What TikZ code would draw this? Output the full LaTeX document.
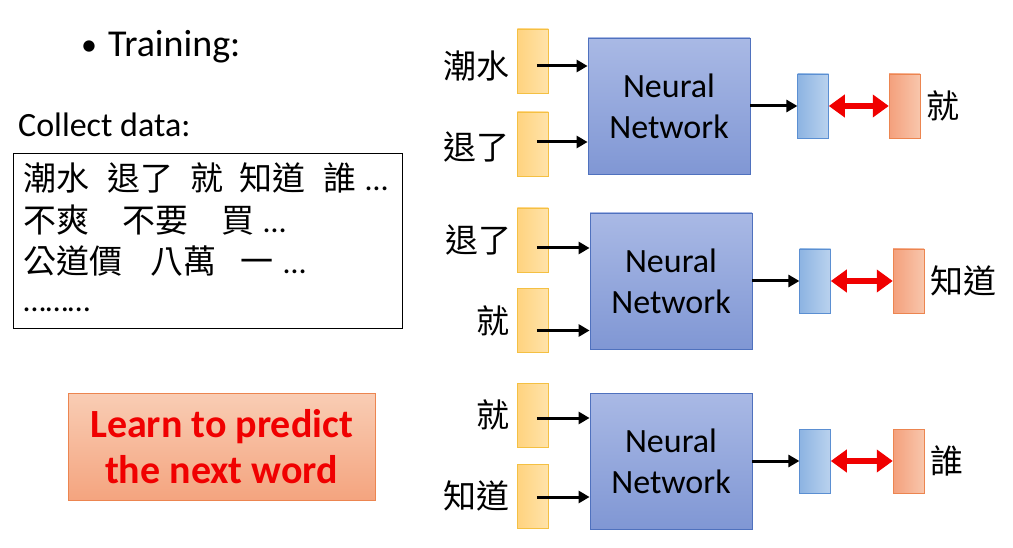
\documentclass[tikz,border=0pt]{standalone}
\usepackage{fontspec}
\setmainfont{Carlito}
\newfontfamily\cjk{Noto Sans CJK TC}
\usetikzlibrary{positioning,arrows.meta}

\definecolor{wordfill}{HTML}{FFD37F}
\definecolor{wordlight}{HTML}{FFE3AA}
\definecolor{wordline}{HTML}{F4C043}
\definecolor{nettop}{HTML}{A9B9E5}
\definecolor{netbot}{HTML}{8097D4}
\definecolor{netline}{HTML}{4F71BE}
\definecolor{vecfill}{HTML}{8DB4E2}
\definecolor{veclight}{HTML}{BAD2EE}
\definecolor{vecline}{HTML}{5B8FD2}
\definecolor{tgtfill}{HTML}{F4A07C}
\definecolor{tgtlight}{HTML}{F8C6AC}
\definecolor{tgtline}{HTML}{EC8550}
\definecolor{goaltop}{HTML}{F9CDB4}
\definecolor{goalbot}{HTML}{F4A47F}
\definecolor{tred}{HTML}{F00000}

\newcommand\moredots{{\rmfamily\fontsize{32}{36}\selectfont …}}

\tikzset{
  wordbox/.style={draw=wordline, left color=wordfill, right color=wordlight,
    minimum width=31pt, minimum height=64pt, inner sep=0pt},
  netbox/.style={draw=netline, line width=0.8pt, top color=nettop, bottom color=netbot,
    minimum width=162pt, minimum height=136pt, align=center,
    font=\fontsize{34}{41}\selectfont},
  vecbox/.style={draw=vecline, left color=vecfill, right color=veclight,
    minimum width=31pt, minimum height=64pt, inner sep=0pt},
  tgtbox/.style={draw=tgtline, left color=tgtfill, right color=tgtlight,
    minimum width=31pt, minimum height=64pt, inner sep=0pt},
  lbl/.style={inner sep=0pt, font=\cjk\fontsize{33}{36}\selectfont},
  row/.style={anchor=base west, inner sep=0pt, font=\cjk\fontsize{33}{36}\selectfont},
  feed/.style={line width=3pt, -{Triangle[length=11pt,width=12pt]}},
  match/.style={tred, line width=6pt,
    {Triangle[length=16pt,width=22pt]}-{Triangle[length=16pt,width=22pt]}},
}

\begin{document}
\begin{tikzpicture}[x=1pt, y=-1pt]
\useasboundingbox (0,0) rectangle (1013,548);

% left column
\node[anchor=base west, inner sep=0pt, font=\fontsize{38}{42}\selectfont] (train) at (81,57) {\raisebox{1pt}{\fontsize{32}{34}\selectfont •}\hspace{11pt}Training:};
\node[anchor=base west, inner sep=0pt, font=\fontsize{34}{38}\selectfont] (collect) at (18,137) {Collect data:};
\node[draw, line width=1pt, minimum width=389pt, minimum height=175pt] (corpus) at (207.5,241.5) {};
\node[row] (row1) at (23.5,191) {潮水\hspace{18pt}退了\hspace{17pt}就\hspace{16pt}知道\hspace{18pt}誰\hspace{9pt}\moredots};
\node[row] (row2) at (23.5,233) {不爽\hspace{33pt}不要\hspace{33pt}買\hspace{9pt}\moredots};
\node[row] (row3) at (23.5,274) {公道價\hspace{28pt}八萬\hspace{24pt}一\hspace{10pt}\moredots};
\node[row] (row4) at (23.5,312) {\moredots\moredots\moredots};
\node[draw=tgtline, top color=goaltop, bottom color=goalbot, minimum width=307pt, minimum height=107pt,
  align=center, text=tred, font=\bfseries\fontsize{40}{46}\selectfont] (goal) at (221.5,446.5) {Learn to predict\\the next word};

% block 1
\node[netbox] (nn1) at (669,106) {Neural\\Network};
\node[wordbox, left=39pt of nn1, yshift=45pt] (w11) {};
\node[wordbox, left=39pt of nn1, yshift=-38pt] (w12) {};
\node[lbl, left=8pt of w11, yshift=-5pt] (l11) {潮水};
\node[lbl, left=8pt of w12, yshift=-3pt] (l12) {退了};
\node[vecbox, right=47pt of nn1] (v1) {};
\node[tgtbox, right=60pt of v1] (t1) {};
\node[lbl, right=6pt of t1] (o1) {就};
\draw[feed] ([xshift=4pt,yshift=-5pt]w11.center) -- ([yshift=-5pt]w11.center -| nn1.west);
\draw[feed] ([xshift=4pt,yshift=2pt]w12.center) -- ([yshift=2pt]w12.center -| nn1.west);
\draw[feed] (nn1) -- (v1);
\draw[match] (v1) -- (t1);

% block 2
\node[netbox] (nn2) at (671,281) {Neural\\Network};
\node[wordbox, left=41pt of nn2, yshift=41pt] (w21) {};
\node[wordbox, left=41pt of nn2, yshift=-39.5pt] (w22) {};
\node[lbl, left=6pt of w21] (l21) {退了};
\node[lbl, left=8pt of w22] (l22) {就};
\node[vecbox, right=47pt of nn2] (v2) {};
\node[tgtbox, right=62pt of v2] (t2) {};
\node[lbl, right=6pt of t2] (o2) {知道};
\draw[feed] ([xshift=4pt,yshift=-8pt]w21.center) -- ([yshift=-8pt]w21.center -| nn2.west);
\draw[feed] ([xshift=4pt,yshift=-10pt]w22.center) -- ([yshift=-10pt]w22.center -| nn2.west);
\draw[feed] (nn2) -- (v2);
\draw[match] (v2) -- (t2);

% block 3
\node[netbox] (nn3) at (671,461) {Neural\\Network};
\node[wordbox, left=41pt of nn3, yshift=46pt] (w31) {};
\node[wordbox, left=41pt of nn3, yshift=-35pt] (w32) {};
\node[lbl, left=8pt of w31] (l31) {就};
\node[lbl, left=8pt of w32] (l32) {知道};
\node[vecbox, right=47pt of nn3] (v3) {};
\node[tgtbox, right=62pt of v3] (t3) {};
\node[lbl, right=6pt of t3] (o3) {誰};
\draw[feed] ([xshift=4pt,yshift=-3pt]w31.center) -- ([yshift=-3pt]w31.center -| nn3.west);
\draw[feed] ([xshift=4pt,yshift=-1pt]w32.center) -- ([yshift=-1pt]w32.center -| nn3.west);
\draw[feed] (nn3) -- (v3);
\draw[match] (v3) -- (t3);
\end{tikzpicture}
\end{document}
